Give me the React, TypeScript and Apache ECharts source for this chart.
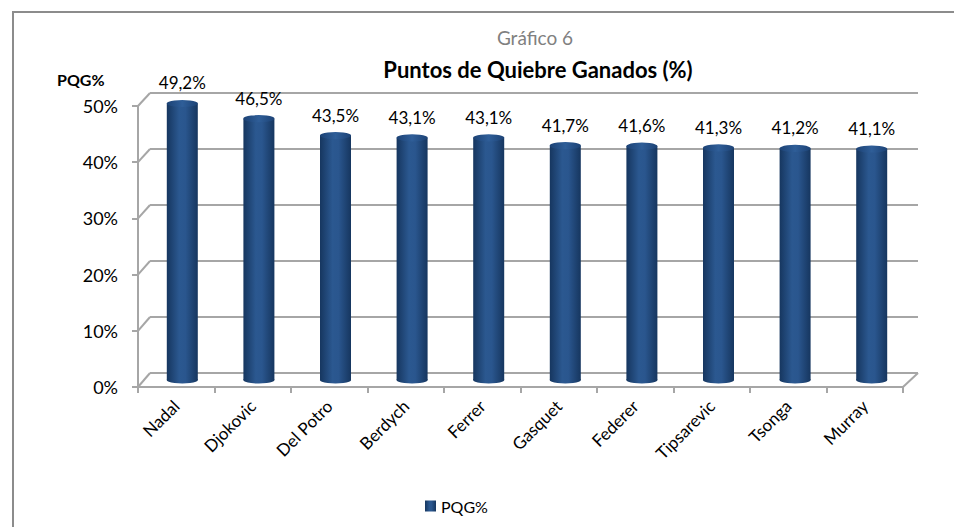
import React, { useEffect, useRef } from "react";
import * as echarts from "echarts";

const players = ["Nadal", "Djokovic", "Del Potro", "Berdych", "Ferrer", "Gasquet", "Federer", "Tipsarevic", "Tsonga", "Murray"];
const pqg = [49.2, 46.5, 43.5, 43.1, 43.1, 41.7, 41.6, 41.3, 41.2, 41.1];
const yTicks = [0, 10, 20, 30, 40, 50];
const seriesName = "PQG%";
const titleTop = "Gráfico 6";
const titleMain = "Puntos de Quiebre Ganados (%)";
const yAxisName = "PQG%";

const FONT = "Lato, 'Open Sans', sans-serif";
const GRID_COLOR = "#A6A6A6";

export default function App() {
  const ref = useRef<HTMLDivElement>(null);
  useEffect(() => {
    if (!ref.current) return;
    const chart = echarts.init(ref.current, null, { renderer: "svg" });
    const barGradient = new echarts.graphic.LinearGradient(0, 0, 1, 0, [
      { offset: 0, color: "#16365F" },
      { offset: 0.4, color: "#2B5890" },
      { offset: 0.6, color: "#2A568E" },
      { offset: 1, color: "#16365F" },
    ]);
    const capGradient = new echarts.graphic.LinearGradient(0, 0, 1, 0, [
      { offset: 0, color: "#1C4275" },
      { offset: 0.5, color: "#2F5E98" },
      { offset: 1, color: "#1C4275" },
    ]);
    const option: any = {
      animation: false,
      backgroundColor: "#fff",
      textStyle: { fontFamily: FONT },
      title: [
        { text: titleTop, left: 530, top: 23, textAlign: "center", textStyle: { fontFamily: FONT, fontSize: 19, fontWeight: "normal", color: "#808080" } },
        { text: titleMain, left: 533, top: 53, textAlign: "center", textStyle: { fontFamily: FONT, fontSize: 22, fontWeight: "bold", color: "#000" } },
        { text: yAxisName, left: 52, top: 66, textStyle: { fontFamily: FONT, fontSize: 16, fontWeight: "bold", color: "#000" } },
      ],
      legend: {
        data: [seriesName],
        bottom: 8,
        left: 420,
        icon: "rect",
        itemWidth: 11,
        itemHeight: 11,
        itemGap: 6,
        textStyle: { fontFamily: FONT, fontSize: 16, color: "#000" },
      },
      grid: [
        { left: 150, right: 36, top: 93, bottom: 154 },
        { left: 138, right: 51, top: 106, bottom: 140 },
        { left: 144, right: 44, top: 99, bottom: 147 },
      ],
      xAxis: [
        { gridIndex: 0, type: "category", data: players, show: false },
        {
          gridIndex: 1,
          type: "category",
          data: players,
          axisLine: { show: true, lineStyle: { color: GRID_COLOR, width: 2 } },
          axisTick: { show: true, length: 6, lineStyle: { color: GRID_COLOR, width: 2 } },
          axisLabel: { rotate: 45, margin: 16, fontSize: 17, color: "#000", fontFamily: FONT, interval: 0 },
        },
        { gridIndex: 2, type: "category", data: players, show: false },
      ],
      yAxis: [
        {
          gridIndex: 0,
          type: "value",
          min: 0,
          max: 50,
          interval: 10,
          axisLine: { show: false },
          axisTick: { show: false },
          axisLabel: { show: false },
          splitLine: { show: true, lineStyle: { color: GRID_COLOR, width: 2 } },
        },
        {
          gridIndex: 1,
          type: "value",
          min: 0,
          max: 50,
          interval: 10,
          axisLine: { show: true, lineStyle: { color: GRID_COLOR, width: 2 } },
          axisTick: { show: true, length: 6, lineStyle: { color: GRID_COLOR, width: 2 } },
          axisLabel: { margin: 20, fontSize: 18, color: "#000", fontFamily: FONT, formatter: "{value}%" },
          splitLine: { show: false },
        },
        { gridIndex: 2, type: "value", min: 0, max: 50, interval: 10, show: false },
      ],
      series: [
        {
          name: seriesName,
          type: "bar",
          xAxisIndex: 2,
          yAxisIndex: 2,
          data: pqg,
          barWidth: 31,
          itemStyle: { color: barGradient },
          label: {
            show: true,
            position: "top",
            distance: 12,
            fontSize: 17,
            color: "#000",
            fontFamily: FONT,
            formatter: (p: any) => p.value.toFixed(1).replace(".", ",") + "%",
          },
          z: 2,
        },
        {
          name: "cap",
          type: "pictorialBar",
          xAxisIndex: 2,
          yAxisIndex: 2,
          data: pqg,
          symbol: "circle",
          symbolSize: [31, 7],
          symbolPosition: "end",
          symbolOffset: [0, "-50%"],
          itemStyle: { color: capGradient },
          z: 3,
          silent: true,
        },
        {
          name: "base",
          type: "pictorialBar",
          xAxisIndex: 2,
          yAxisIndex: 2,
          data: pqg,
          symbol: "circle",
          symbolSize: [31, 7],
          symbolPosition: "start",
          symbolOffset: [0, "50%"],
          itemStyle: { color: barGradient },
          z: 1,
          silent: true,
        },
      ],
    };
    chart.setOption(option);

    // 3D frame decorations derived from axis scales
    const els: any[] = [];
    const frontX = 138;
    const backX = 150;
    yTicks.forEach((v) => {
      const yf = chart.convertToPixel({ yAxisIndex: 1 } as any, v) as unknown as number;
      const yb = chart.convertToPixel({ yAxisIndex: 0 } as any, v) as unknown as number;
      els.push({
        type: "line",
        shape: { x1: frontX, y1: yf, x2: backX, y2: yb },
        style: { stroke: GRID_COLOR, lineWidth: 2 },
        silent: true,
      });
    });
    const yf0 = chart.convertToPixel({ yAxisIndex: 1 } as any, 0) as unknown as number;
    const yb0 = chart.convertToPixel({ yAxisIndex: 0 } as any, 0) as unknown as number;
    els.push({
      type: "line",
      shape: { x1: 954 - 51, y1: yf0, x2: 954 - 36, y2: yb0 },
      style: { stroke: GRID_COLOR, lineWidth: 2 },
      silent: true,
    });
    chart.setOption({ graphic: els });
    return () => chart.dispose();
  }, []);
  return (
    <div style={{ position: "fixed", left: 0, top: 0, width: 954, height: 527, overflow: "hidden", background: "#fff" }}>
      <div ref={ref} style={{ position: "absolute", left: 0, top: 0, width: 954, height: 527 }} />
      <div
        style={{
          position: "absolute",
          left: 12,
          top: 11,
          width: 1000,
          height: 600,
          borderTop: "2px solid #8C8C8C",
          borderLeft: "2px solid #8C8C8C",
          pointerEvents: "none",
        }}
      />
    </div>
  );
}
